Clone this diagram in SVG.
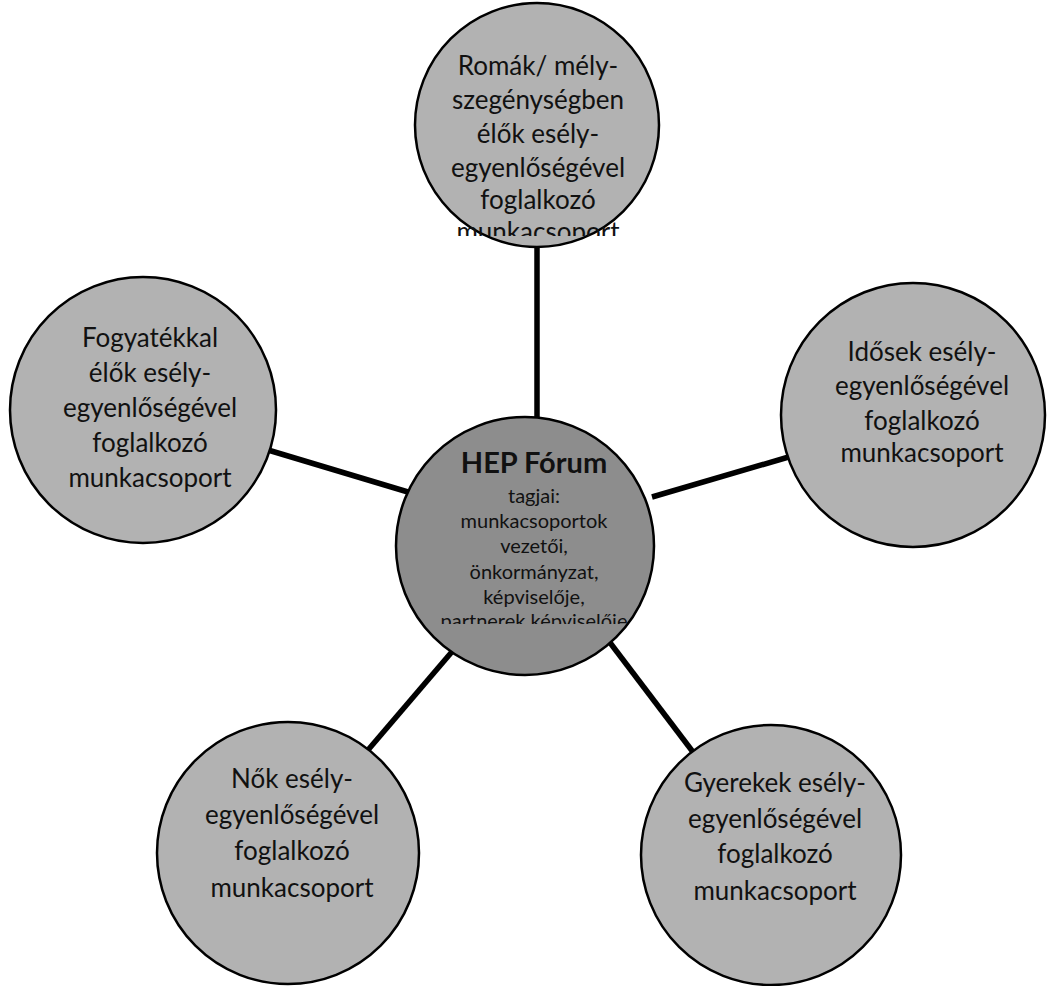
<svg xmlns="http://www.w3.org/2000/svg" width="1051" height="986" viewBox="0 0 1051 986">
<style>
.node{fill:#b2b2b2;stroke:#000;stroke-width:2.5}
.hub{fill:#8d8d8d;stroke:#000;stroke-width:2.5}
.t{font-family:Lato,"Open Sans","Liberation Sans",sans-serif;font-size:26px;fill:#111;text-anchor:middle}
.h{font-family:Lato,"Open Sans","Liberation Sans",sans-serif;font-size:29px;font-weight:bold;fill:#111;text-anchor:middle}
.s{font-family:Lato,"Open Sans","Liberation Sans",sans-serif;font-size:20px;fill:#111;text-anchor:middle}
.c{stroke:#000;stroke-width:5.5;fill:none}
</style>
<defs>
<clipPath id="clipTop"><rect x="400" y="0" width="280" height="236"/></clipPath>
<clipPath id="clipHub"><rect x="390" y="400" width="280" height="224"/></clipPath>
</defs>
<rect width="1051" height="986" fill="#fff"/>
<g id="connectors">
<line class="c" x1="537" y1="240" x2="537" y2="425"/>
<line class="c" x1="268" y1="450" x2="408" y2="492"/>
<line class="c" x1="652" y1="497" x2="792" y2="456"/>
<line class="c" x1="462" y1="640" x2="368" y2="750"/>
<line class="c" x1="608" y1="640" x2="696" y2="756"/>
</g>
<g id="node-hub">
<circle class="hub" cx="525" cy="546" r="129"/>
<text class="h" x="534" y="473">HEP Fórum</text>
<g clip-path="url(#clipHub)">
<text class="s" x="534" y="503">tagjai:</text>
<text class="s" x="534" y="528">munkacsoportok</text>
<text class="s" x="534" y="553">vezetői,</text>
<text class="s" x="534" y="579">önkormányzat,</text>
<text class="s" x="534" y="604">képviselője,</text>
<text class="s" x="534" y="628">partnerek képviselője</text>
</g>
</g>
<g id="node-romak">
<circle class="node" cx="537" cy="125" r="122"/>
<g clip-path="url(#clipTop)">
<text class="t" x="538" y="75">Romák/ mély-</text>
<text class="t" x="538" y="109">szegénységben</text>
<text class="t" x="538" y="143">élők esély-</text>
<text class="t" x="538" y="177">egyenlőségével</text>
<text class="t" x="538" y="209">foglalkozó</text>
<text class="t" x="538" y="241">munkacsoport</text>
</g>
</g>
<g id="node-fogyatekkal">
<circle class="node" cx="143" cy="410" r="133"/>
<text class="t" x="150" y="347">Fogyatékkal</text>
<text class="t" x="150" y="382">élők esély-</text>
<text class="t" x="150" y="417">egyenlőségével</text>
<text class="t" x="150" y="452">foglalkozó</text>
<text class="t" x="150" y="487">munkacsoport</text>
</g>
<g id="node-idosek">
<circle class="node" cx="913" cy="415" r="132"/>
<text class="t" x="922" y="361">Idősek esély-</text>
<text class="t" x="922" y="395">egyenlőségével</text>
<text class="t" x="922" y="430">foglalkozó</text>
<text class="t" x="922" y="462">munkacsoport</text>
</g>
<g id="node-nok">
<circle class="node" cx="288" cy="853" r="131"/>
<text class="t" x="292" y="788">Nők esély-</text>
<text class="t" x="292" y="824">egyenlőségével</text>
<text class="t" x="292" y="860">foglalkozó</text>
<text class="t" x="292" y="897">munkacsoport</text>
</g>
<g id="node-gyerekek">
<circle class="node" cx="771" cy="855" r="130"/>
<text class="t" x="775" y="792">Gyerekek esély-</text>
<text class="t" x="775" y="828">egyenlőségével</text>
<text class="t" x="775" y="863">foglalkozó</text>
<text class="t" x="775" y="900">munkacsoport</text>
</g>
</svg>
